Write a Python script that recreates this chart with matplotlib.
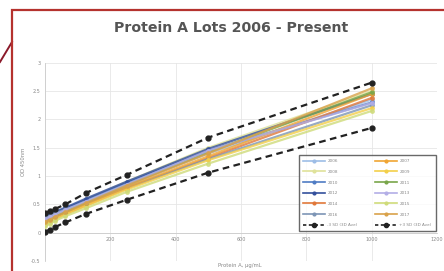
"""Protein A lots 2006 - present: OD450 standard curves with +/-3 SD limits."""
import matplotlib
matplotlib.use("Agg")
import matplotlib.pyplot as plt
from matplotlib.patches import Rectangle
from matplotlib.lines import Line2D

conc = [0, 15.6, 31.25, 62.5, 125, 250, 500, 1000]

lots = ["2006", "2008", "2010", "2012", "2014", "2016",
        "2007", "2009", "2011", "2013", "2015", "2017"]
lot_od = {
    "2006": [0.22, 0.26, 0.30, 0.38, 0.55, 0.85, 1.40, 2.35],
    "2008": [0.25, 0.29, 0.33, 0.42, 0.58, 0.90, 1.50, 2.50],
    "2010": [0.28, 0.31, 0.35, 0.43, 0.58, 0.88, 1.45, 2.30],
    "2012": [0.30, 0.33, 0.37, 0.44, 0.60, 0.90, 1.48, 2.45],
    "2014": [0.16, 0.20, 0.25, 0.33, 0.48, 0.78, 1.32, 2.38],
    "2016": [0.26, 0.30, 0.34, 0.41, 0.52, 0.80, 1.30, 2.25],
    "2007": [0.18, 0.22, 0.27, 0.35, 0.50, 0.80, 1.35, 2.45],
    "2009": [0.15, 0.19, 0.24, 0.32, 0.47, 0.76, 1.28, 2.20],
    "2011": [0.20, 0.24, 0.29, 0.37, 0.53, 0.84, 1.42, 2.48],
    "2013": [0.24, 0.28, 0.32, 0.40, 0.55, 0.85, 1.45, 2.29],
    "2015": [0.12, 0.16, 0.21, 0.29, 0.43, 0.72, 1.22, 2.15],
    "2017": [0.19, 0.23, 0.28, 0.36, 0.52, 0.83, 1.40, 2.55],
}
lot_colors = {
    "2006": "#9dbde6", "2008": "#dfe29a", "2010": "#4f7cc4", "2012": "#34509c",
    "2014": "#e0783a", "2016": "#7d95b5", "2007": "#f0a533", "2009": "#f3cf4a",
    "2011": "#79a64a", "2013": "#b3aee6", "2015": "#cfdb7a", "2017": "#d9a24a",
}

plus_3sd = [0.35, 0.38, 0.42, 0.50, 0.70, 1.02, 1.68, 2.65]
minus_3sd = [0.02, 0.05, 0.10, 0.18, 0.33, 0.58, 1.06, 1.85]

fig = plt.figure(figsize=(4.44, 2.71), dpi=100)
fig.patch.set_facecolor("white")
ax = fig.add_axes([0.101, 0.037, 0.883, 0.731])
ax.set_facecolor("white")

for lot in lots:
    ax.plot(conc, lot_od[lot], color=lot_colors[lot], lw=1.6, alpha=0.8,
            marker="o", ms=2.5, zorder=3)

ax.plot(conc, plus_3sd, color="#222222", lw=1.6, ls=(0, (3, 2)),
        marker="o", ms=3.5, zorder=4)
ax.plot(conc, minus_3sd, color="#222222", lw=1.6, ls=(0, (3, 2)),
        marker="o", ms=3.5, zorder=4)

ax.set_xlim(0, 1200)
ax.set_ylim(-0.5, 3)
ax.set_xticks(range(0, 1201, 200))
ax.set_yticks([-0.5, 0, 0.5, 1, 1.5, 2, 2.5, 3])
ax.set_xticklabels(["", "200", "400", "600", "800", "1000", "1200"])
ax.set_yticklabels(["-0.5", "0", "0.5", "1", "1.5", "2", "2.5", "3"])
ax.tick_params(labelsize=3.5, colors="#888888", length=0, pad=3)
ax.grid(True, color="#e6e6e6", lw=0.6, zorder=0)
ax.set_axisbelow(True)
for s in ["top", "right"]:
    ax.spines[s].set_visible(False)
ax.spines["bottom"].set_position(("data", 0))
ax.spines["bottom"].set_color("#cccccc")
ax.spines["left"].set_color("#cccccc")
ax.spines["bottom"].set_linewidth(0.6)
ax.spines["left"].set_linewidth(0.6)

ax.set_ylabel("OD 450nm", fontsize=3.8, color="#888888", labelpad=4)
fig.text(0.54, 0.022, "Protein A, µg/mL", fontsize=3.8, color="#888888",
         ha="center", va="center")

# legend: left column even years, right column odd years, SD rows last
handles = []
labels = []
for col in (lots[:6], lots[6:]):
    for lot in col:
        handles.append(Line2D([], [], color=lot_colors[lot], lw=1.2, marker="o", ms=2))
        labels.append(lot)
    handles.append(Line2D([], [], color="#222222", lw=1.2, ls=(0, (2, 1.5)), marker="o", ms=3))
    labels.append("-3 SD (3D Ave)" if col[0] == "2006" else "+3 SD (3D Ave)")
leg = fig.legend(handles, labels, ncol=2, loc="upper left",
                 bbox_to_anchor=(297 / 444, 1 - 153 / 271), fontsize=3.0,
                 frameon=True, fancybox=False, edgecolor="#444444",
                 handlelength=5.2, columnspacing=4.2, labelspacing=1.6,
                 borderpad=1.0, handletextpad=0.6, labelcolor="#888888")
leg.get_frame().set_linewidth(1.0)

fig.text(0.52, 0.897, "Protein A Lots 2006 - Present", fontsize=10.2,
         fontweight="bold", color="#555555", ha="center", va="center")

# red card frame and callout line
fig.patches.append(Rectangle((12 / 444, -0.05), 1.0, 1 - 10 / 271 + 0.05,
                             transform=fig.transFigure, fill=False,
                             edgecolor="#b5322e", lw=1.6, zorder=10))
fig.lines.append(Line2D([0, 12 / 444], [1 - 62 / 271, 1 - 42 / 271],
                        transform=fig.transFigure, color="#8b1a2b", lw=1.4))

fig.savefig("out.png", dpi=100, facecolor="white")
